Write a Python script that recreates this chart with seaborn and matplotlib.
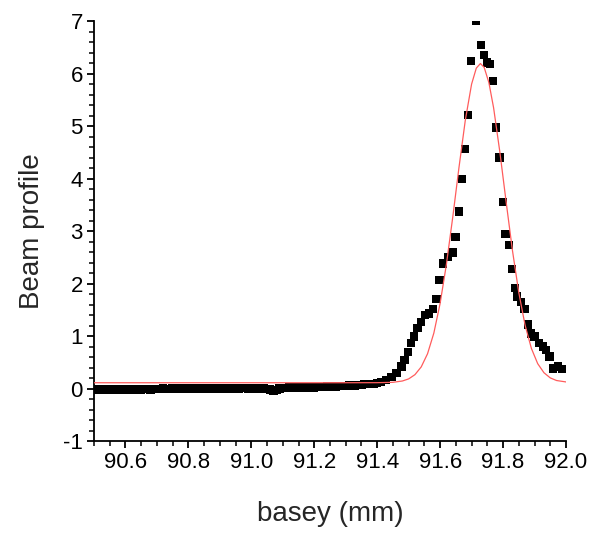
import numpy as np
import pandas as pd
import matplotlib
matplotlib.use("Agg")
import matplotlib.pyplot as plt
from matplotlib.ticker import MultipleLocator
import seaborn as sns

# ---- measured beam profile (black squares) ----
base_x = [90.50, 90.51, 90.52, 90.53, 90.54, 90.55, 90.56, 90.57, 90.58, 90.59,
          90.60, 90.61, 90.62, 90.63, 90.64, 90.65, 90.66, 90.67, 90.68, 90.69,
          90.70, 90.71, 90.72, 90.73, 90.74, 90.75, 90.76, 90.77, 90.78, 90.79,
          90.80, 90.81, 90.82, 90.83, 90.84, 90.85, 90.86, 90.87, 90.88, 90.89,
          90.90, 90.91, 90.92, 90.93, 90.94, 90.95, 90.96, 90.97, 90.98, 90.99,
          91.00, 91.01, 91.02, 91.03, 91.04, 91.05, 91.06, 91.07, 91.08, 91.09,
          91.10, 91.11, 91.12, 91.13, 91.14, 91.15, 91.16, 91.17, 91.18, 91.19,
          91.20, 91.21, 91.22, 91.23, 91.24, 91.25, 91.26, 91.27, 91.28, 91.29,
          91.30, 91.31, 91.32, 91.33, 91.34, 91.35, 91.36, 91.37, 91.38, 91.39,
          91.40]
base_y = [-0.02, -0.03, -0.02, -0.03, -0.02, -0.02, -0.03, -0.02, -0.02, -0.01,
          -0.02, -0.02, -0.01, -0.02, -0.01, -0.02, -0.01, -0.01, -0.02, -0.01,
          -0.01, -0.01, 0.00, -0.01, -0.01, 0.00, -0.01, 0.00, -0.01, 0.00,
          0.00, -0.01, 0.00, 0.00, 0.01, 0.00, 0.00, 0.01, 0.00, 0.00,
          0.01, 0.00, 0.00, 0.01, 0.00, 0.01, 0.00, 0.01, 0.01, 0.00,
          0.01, 0.00, 0.01, 0.00, 0.00, -0.01, -0.02, -0.04, -0.03, 0.00,
          0.01, 0.01, 0.02, 0.01, 0.02, 0.02, 0.01, 0.02, 0.02, 0.03,
          0.02, 0.03, 0.03, 0.03, 0.04, 0.03, 0.04, 0.04, 0.05, 0.05,
          0.05, 0.06, 0.06, 0.06, 0.07, 0.07, 0.08, 0.08, 0.09, 0.09,
          0.11]
peak_x = [91.413, 91.429, 91.445, 91.461, 91.477, 91.487, 91.498, 91.508, 91.517,
          91.528, 91.540, 91.551, 91.565, 91.577, 91.588, 91.598, 91.609, 91.625,
          91.639, 91.649, 91.659, 91.669, 91.679, 91.688, 91.699, 91.715, 91.729,
          91.739, 91.749, 91.759, 91.768, 91.778, 91.789, 91.799, 91.808, 91.818,
          91.828, 91.837, 91.845, 91.858, 91.868, 91.879, 91.889, 91.900, 91.914,
          91.926, 91.937, 91.948, 91.958, 91.974, 91.988]
peak_y = [0.13, 0.16, 0.22, 0.30, 0.42, 0.54, 0.70, 0.87, 0.99,
          1.15, 1.27, 1.40, 1.43, 1.51, 1.70, 2.07, 2.38, 2.51,
          2.59, 2.89, 3.37, 3.99, 4.56, 5.21, 6.24, 7.01, 6.54,
          6.35, 6.21, 6.18, 5.86, 4.97, 4.40, 3.55, 2.94, 2.73,
          2.28, 1.92, 1.75, 1.65, 1.51, 1.22, 1.05, 0.99, 0.87,
          0.80, 0.73, 0.61, 0.38, 0.42, 0.37]

# ---- fitted curve (red line) ----
fit_x = [90.50, 91.30, 91.40, 91.45, 91.48, 91.50, 91.52, 91.54, 91.56, 91.58,
         91.60, 91.62, 91.64, 91.66, 91.68, 91.70, 91.715, 91.728, 91.74, 91.755,
         91.77, 91.79, 91.81, 91.83, 91.85, 91.87, 91.89, 91.91, 91.93, 91.95,
         91.97, 92.00]
fit_y = [0.11, 0.11, 0.111, 0.118, 0.143, 0.183, 0.264, 0.412, 0.662, 1.055,
         1.621, 2.367, 3.258, 4.214, 5.109, 5.798, 6.103, 6.19, 6.116, 5.825,
         5.344, 4.496, 3.543, 2.622, 1.826, 1.206, 0.764, 0.474, 0.300, 0.202,
         0.152, 0.125]

x_ticks = [90.6, 90.8, 91.0, 91.2, 91.4, 91.6, 91.8, 92.0]
y_ticks = [-1, 0, 1, 2, 3, 4, 5, 6, 7]

data = pd.DataFrame({"x": base_x + peak_x, "y": base_y + peak_y})
fit = pd.DataFrame({"x": fit_x, "y": fit_y})

sns.set_style("ticks")
plt.rcParams["font.family"] = ["Liberation Sans", "DejaVu Sans"]

fig = plt.figure(figsize=(5.91, 5.33), dpi=100)
ax = fig.add_axes([0.159, 0.1726, 0.7987, 0.788])

sns.scatterplot(data=data, x="x", y="y", marker="s", s=36, color="black",
                edgecolor="none", linewidth=0, ax=ax, zorder=2)
sns.lineplot(data=fit, x="x", y="y", color="#ff5c5c", linewidth=0.9,
             estimator=None, sort=False, ax=ax, zorder=3)

ax.set_xlim(90.5, 92.0)
ax.set_ylim(-1, 7)
ax.set_xticks(x_ticks)
ax.set_xticklabels([f"{v:.1f}" for v in x_ticks])
ax.set_yticks(y_ticks)
ax.set_yticklabels([str(v) for v in y_ticks])
ax.xaxis.set_minor_locator(MultipleLocator(0.05))
ax.yaxis.set_minor_locator(MultipleLocator(0.2))

for s in ["top", "right"]:
    ax.spines[s].set_visible(False)
for s in ["left", "bottom"]:
    ax.spines[s].set_linewidth(1.3)
    ax.spines[s].set_color("black")

ax.tick_params(axis="both", which="major", direction="out", length=5,
               width=1.3, labelsize=16, colors="black", pad=3)
ax.tick_params(axis="both", which="minor", direction="out", length=3.5,
               width=1.1, colors="black")

ax.set_xlabel("basey (mm)", fontsize=20, labelpad=20)
ax.set_ylabel("Beam profile", fontsize=20, labelpad=13)

fig.savefig("out.png", dpi=100)
